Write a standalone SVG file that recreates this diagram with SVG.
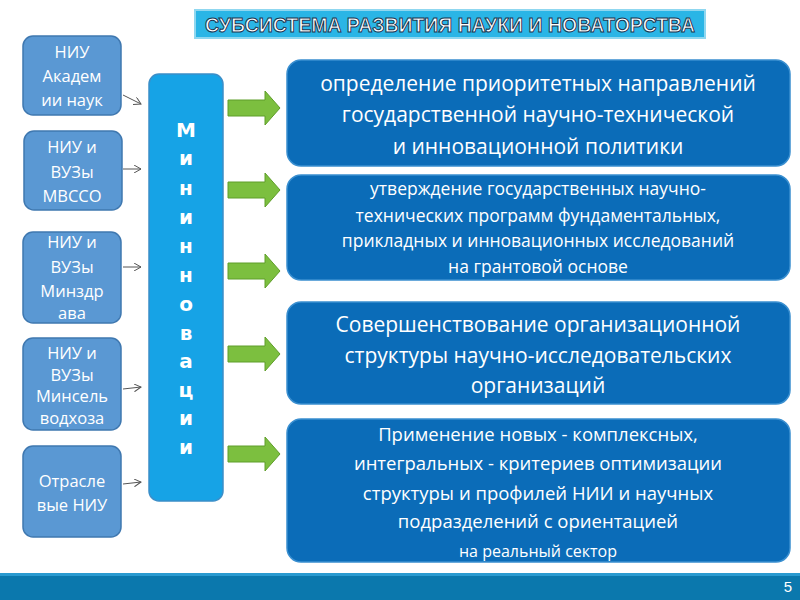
<svg xmlns="http://www.w3.org/2000/svg" width="800" height="600" viewBox="0 0 800 600">
<defs>
<style>
.l rect{fill:#5a98d3;stroke:#3f78b0;stroke-width:1.5}
.l text{font-family:"Open Sans","DejaVu Sans",sans-serif;font-size:16.5px;fill:#fff;text-anchor:middle}
.r rect{fill:#0b6cb8;stroke:#3a8fd0;stroke-width:1.5}
.r text{font-family:"Open Sans","DejaVu Sans",sans-serif;fill:#fff;text-anchor:middle}
.c text{font-family:"DejaVu Sans",sans-serif;font-weight:bold;font-size:20px;fill:#fff;text-anchor:middle}
.ga{fill:#7cbf3f;stroke:#5f9e2a;stroke-width:1}
.th{stroke:#555;stroke-width:1;fill:none}
</style>
<linearGradient id="rg" x1="0" y1="0" x2="0" y2="1"><stop offset="0" stop-color="#0d76c4"/><stop offset="1" stop-color="#0a62ad"/></linearGradient>
<marker id="m" markerWidth="8" markerHeight="8" refX="7" refY="4" orient="auto" markerUnits="userSpaceOnUse"><path d="M0,0 L7,4 L0,8" fill="none" stroke="#555" stroke-width="1"/></marker>
</defs>
<rect width="800" height="600" fill="#fff"/>
<g id="title">
<rect x="195" y="10" width="510" height="28" fill="#2ab5e6" stroke="#8fd7f0" stroke-width="2"/>
<text x="450" y="32" font-family="'Liberation Sans',Arial,sans-serif" font-weight="bold" font-size="20" fill="#fff" stroke="#1a3550" stroke-width="1" text-anchor="middle" textLength="490" lengthAdjust="spacingAndGlyphs">СУБСИСТЕМА РАЗВИТИЯ НАУКИ И НОВАТОРСТВА</text>
</g>
<g id="n1" class="l"><rect x="23" y="36" width="98" height="79" rx="10"/><text x="72" y="58">НИУ</text><text x="72" y="82">Академ</text><text x="72" y="106">ии наук</text></g>
<g id="n2" class="l"><rect x="24" y="131" width="98" height="79" rx="10"/><text x="72" y="153">НИУ  и</text><text x="72" y="178">ВУЗы</text><text x="72" y="202">МВССО</text></g>
<g id="n3" class="l"><rect x="23" y="232" width="98" height="91" rx="10"/><text x="72" y="248">НИУ и</text><text x="72" y="273">ВУЗы</text><text x="72" y="297">Минздр</text><text x="72" y="319">ава</text></g>
<g id="n4" class="l"><rect x="23" y="338" width="98" height="92" rx="10"/><text x="72" y="359" font-size="15">НИУ и</text><text x="72" y="381" font-size="15">ВУЗы</text><text x="72" y="402" font-size="15">Минсель</text><text x="72" y="424" font-size="15">водхоза</text></g>
<g id="n5" class="l"><rect x="23" y="446" width="98" height="91" rx="10"/><text x="72" y="487">Отрасле</text><text x="72" y="511">вые НИУ</text></g>
<g id="center" class="c">
<rect x="149" y="74" width="74" height="427" rx="10" fill="#16a3e6" stroke="#3b8ec8" stroke-width="1.5"/>
<text x="186" y="137">М</text><text x="186" y="165">и</text><text x="186" y="195">н</text><text x="186" y="224">и</text><text x="186" y="253">н</text><text x="186" y="282">н</text><text x="186" y="311">о</text><text x="186" y="340">в</text><text x="186" y="368">а</text><text x="186" y="397">ц</text><text x="186" y="425">и</text><text x="186" y="454">и</text>
</g>
<g id="r1" class="r"><rect x="287" y="60" width="503" height="106" rx="14" fill="url(#rg)"/><text x="538" y="91" font-size="21">определение приоритетных направлений</text><text x="538" y="122" font-size="21">государственной научно-технической</text><text x="538" y="154" font-size="21">и инновационной политики</text></g>
<g id="r2" class="r"><rect x="287" y="175" width="503" height="105" rx="14" fill="url(#rg)"/><text x="538" y="195" font-size="17.5">утверждение государственных научно-</text><text x="538" y="222" font-size="17.5">технических программ фундаментальных,</text><text x="538" y="247" font-size="17.5">прикладных и инновационных исследований</text><text x="538" y="273" font-size="17.5">на грантовой основе</text></g>
<g id="r3" class="r"><rect x="287" y="302" width="503" height="102" rx="14" fill="url(#rg)"/><text x="538" y="332" font-size="21">Совершенствование организационной</text><text x="538" y="363" font-size="21">структуры научно-исследовательских</text><text x="538" y="393" font-size="21">организаций</text></g>
<g id="r4" class="r"><rect x="287" y="419" width="503" height="143" rx="14" fill="url(#rg)"/><text x="538" y="441" font-size="18.5">Применение новых - комплексных,</text><text x="538" y="470" font-size="18.5">интегральных - критериев оптимизации</text><text x="538" y="500" font-size="18.5">структуры и профилей НИИ и научных</text><text x="538" y="528" font-size="18.5">подразделений с ориентацией</text><text x="538" y="557" font-size="16">на реальный сектор</text></g>
<g id="connectors">
<line class="th" x1="123" y1="95" x2="141" y2="104" marker-end="url(#m)"/>
<line class="th" x1="123" y1="169" x2="141" y2="169" marker-end="url(#m)"/>
<line class="th" x1="123" y1="267" x2="141" y2="267" marker-end="url(#m)"/>
<line class="th" x1="123" y1="389" x2="141" y2="387" marker-end="url(#m)"/>
<line class="th" x1="123" y1="484" x2="141" y2="482" marker-end="url(#m)"/>
<path class="ga" d="M228,100 h37 v-9 l15,17 -15,17 v-9 h-37 z"/>
<path class="ga" d="M228,182 h37 v-9 l15,17 -15,17 v-9 h-37 z"/>
<path class="ga" d="M228,263 h37 v-9 l15,17 -15,17 v-9 h-37 z"/>
<path class="ga" d="M228,346 h37 v-9 l15,17 -15,17 v-9 h-37 z"/>
<path class="ga" d="M228,446 h37 v-9 l15,17 -15,17 v-9 h-37 z"/>
</g>
<g id="footer">
<rect x="0" y="573" width="800" height="27" fill="#0b78ad"/>
<rect x="0" y="573" width="800" height="3" fill="#2a9ad0"/>
<text x="788" y="592" font-family="'Liberation Sans',Arial,sans-serif" font-size="15" fill="#fff" text-anchor="middle">5</text>
</g>
</svg>
